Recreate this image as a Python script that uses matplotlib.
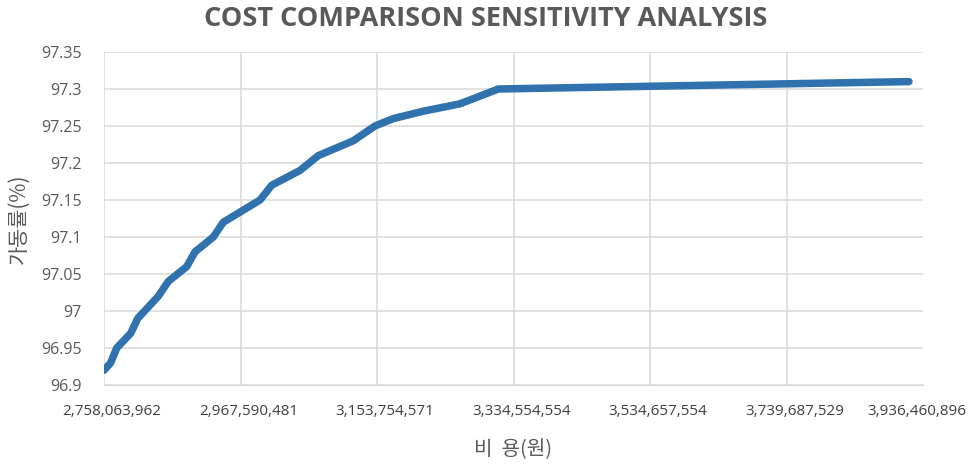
import matplotlib
matplotlib.use("Agg")
import matplotlib.pyplot as plt
import numpy as np
from matplotlib.transforms import ScaledTranslation

# x axis tick labels (cost, won)
tick_costs = [2758063962, 2967590481, 3153754571, 3334554554,
              3534657554, 3739687529, 3936460896]
tick_labels = ["2,758,063,962", "2,967,590,481", "3,153,754,571", "3,334,554,554",
               "3,534,657,554", "3,739,687,529", "3,936,460,896"]
# where each labelled cost sits along the axis (category spacing of the original)
tick_slots = [0, 1, 2, 3, 4, 5, 5.897]

# series
cost = [2758063962, 2768330000, 2777550000, 2799130000, 2809820000, 2841460000,
        2856750000, 2885040000, 2897820000, 2925890000, 2941190000, 2994210000,
        3010220000, 3048760000, 3073700000, 3121360000, 3150960000, 3175270000,
        3215050000, 3263690000, 3314490000, 3936460896]
availability = [96.92, 96.93, 96.95, 96.97, 96.99, 97.02,
                97.04, 97.06, 97.08, 97.10, 97.12, 97.15,
                97.17, 97.19, 97.21, 97.23, 97.25, 97.26,
                97.27, 97.28, 97.30, 97.31]

y_ticks = [96.9, 96.95, 97, 97.05, 97.1, 97.15, 97.2, 97.25, 97.3, 97.35]

tc = np.array(tick_costs, float)
tp = np.array(tick_slots, float)


def fwd(x):
    x = np.asarray(x, float)
    y = np.interp(x, tc, tp)
    k_hi = (tp[-1] - tp[-2]) / (tc[-1] - tc[-2])
    k_lo = (tp[1] - tp[0]) / (tc[1] - tc[0])
    y = np.where(x > tc[-1], tp[-1] + (x - tc[-1]) * k_hi, y)
    y = np.where(x < tc[0], tp[0] + (x - tc[0]) * k_lo, y)
    return y


def inv(u):
    u = np.asarray(u, float)
    x = np.interp(u, tp, tc)
    k_hi = (tc[-1] - tc[-2]) / (tp[-1] - tp[-2])
    k_lo = (tc[1] - tc[0]) / (tp[1] - tp[0])
    x = np.where(u > tp[-1], tc[-1] + (u - tp[-1]) * k_hi, x)
    x = np.where(u < tp[0], tc[0] + (u - tp[0]) * k_lo, x)
    return x


fig = plt.figure(figsize=(9.72, 4.66), dpi=100)
ax = fig.add_axes([104 / 972, 1 - 385 / 466, (923 - 104) / 972, (385 - 52) / 466])

ax.set_xscale("function", functions=(fwd, inv))
ax.plot(cost, availability, color="#2F72AE", lw=5.4,
        solid_capstyle="round", solid_joinstyle="round", zorder=3)

ax.set_xlim(tick_costs[0], inv(6.0))
ax.set_ylim(96.9, 97.35)
ax.set_yticks(y_ticks, labels=[f"{v:g}" for v in y_ticks])
ax.set_xticks(tick_costs, labels=tick_labels)
ax.minorticks_off()

ax.grid(True, color="#D9D9D9", lw=1.1)
ax.set_axisbelow(True)
ax.xaxis.get_gridlines()[-1].set_visible(False)
for s in ["top", "right", "left"]:
    ax.spines[s].set_visible(False)
ax.spines["bottom"].set_color("#D9D9D9")
ax.tick_params(length=0)
ax.tick_params(axis="y", pad=16, labelsize=11.5, labelcolor="#595959")
ax.tick_params(axis="x", pad=14, labelsize=11, labelcolor="#404040")
for lbl in ax.get_yticklabels():
    lbl.set_family("Open Sans")
for lbl in ax.get_xticklabels():
    lbl.set_family("Open Sans")
    lbl.set_transform(lbl.get_transform() + ScaledTranslation(8 / 100, 0, fig.dpi_scale_trans))

ax.set_ylabel("가동률(%)", family=["Noto Sans CJK KR", "DejaVu Sans"],
              fontsize=15, color="#595959", labelpad=8)
ax.set_xlabel("비  용(원)", family=["Noto Sans CJK KR", "DejaVu Sans"],
              fontsize=14.5, color="#595959", labelpad=14)

fig.text(0.5, 1 - 19 / 466, "COST COMPARISON SENSITIVITY ANALYSIS",
         ha="center", va="center", fontsize=19.5, fontweight="bold",
         color="#595959", family="Open Sans")

fig.savefig("out.png", dpi=100)
